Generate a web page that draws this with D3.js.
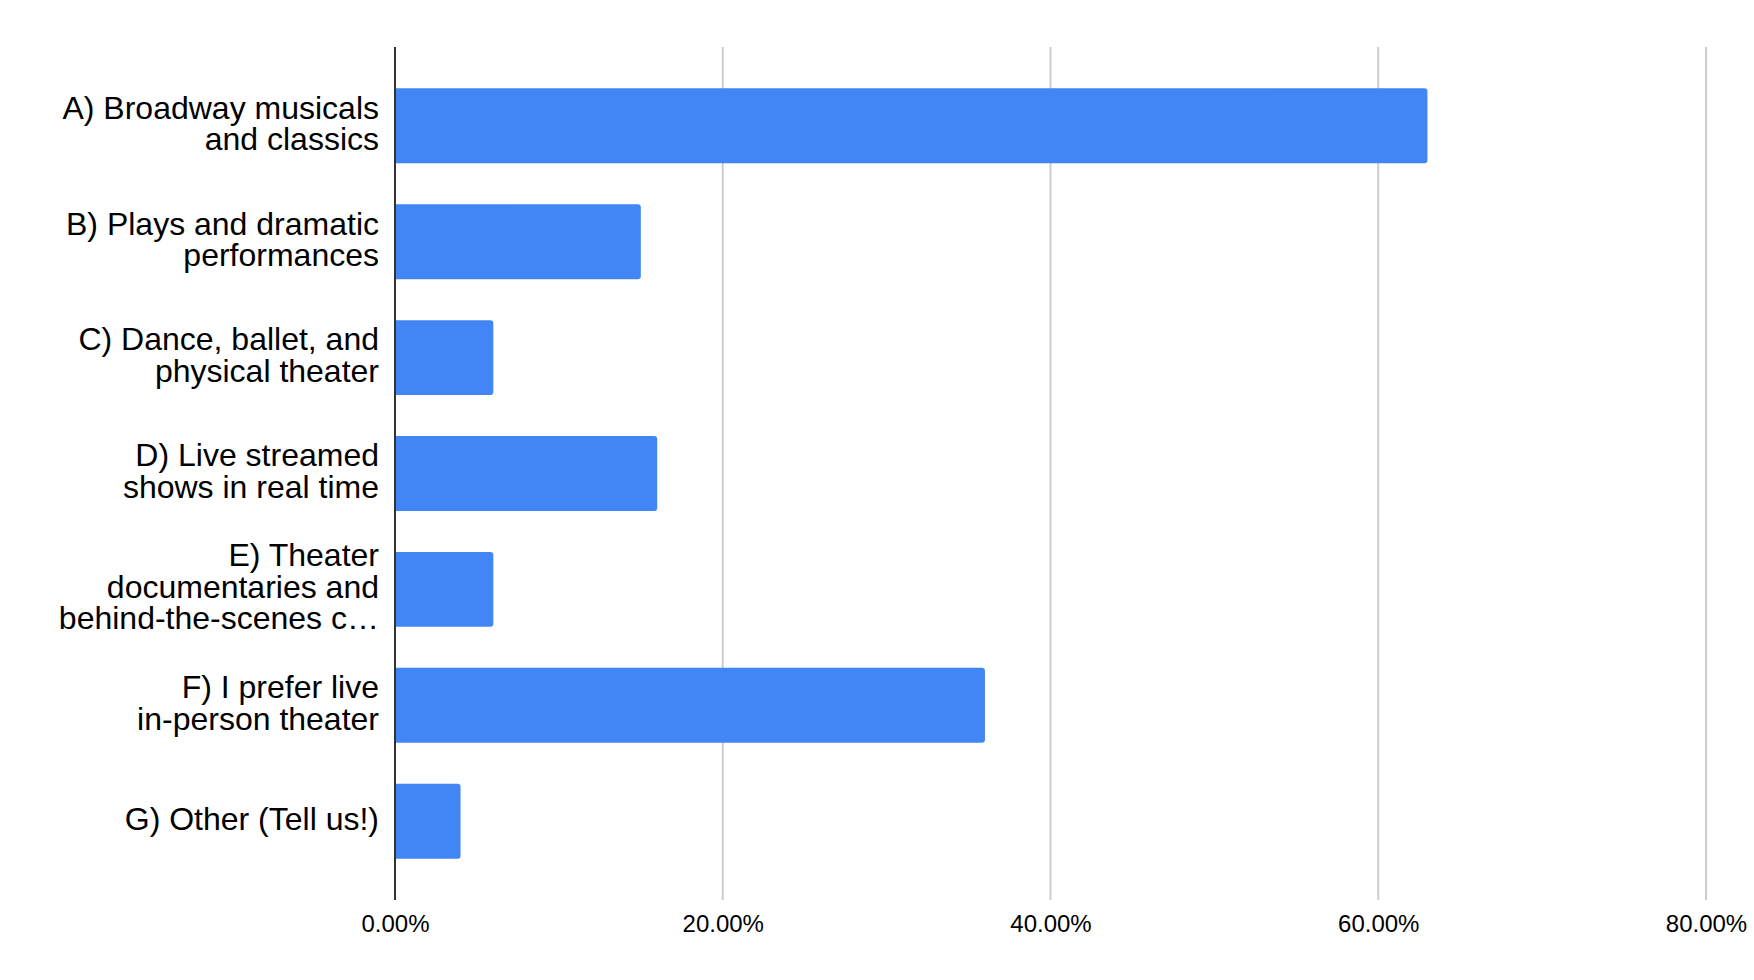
<!DOCTYPE html>
<html>
<head>
<meta charset="utf-8">
<script src="https://cdn.jsdelivr.net/npm/d3@7"></script>
<style>
  body { margin: 0; background: #fff; }
  svg { display: block; font-family: "Liberation Sans", Arial, sans-serif; }
  .grid line { stroke: #ccc; stroke-width: 2; }
  .axis-x .domain { display: none; }
  .axis-x line { display: none; }
  .axis-x text { font-size: 24px; fill: #000; }
  .cat text { font-size: 32px; fill: #000; }
  .bar { fill: #4285f4; }
</style>
</head>
<body>
<div id="chart"></div>
<script>
// labels as they appear in the chart (line breaks and truncation included)
var categories = [
  "A) Broadway musicals\nand classics",
  "B) Plays and dramatic\nperformances",
  "C) Dance, ballet, and\nphysical theater",
  "D) Live streamed\nshows in real time",
  "E) Theater\ndocumentaries and\nbehind-the-scenes c\u2026",
  "F) I prefer live\nin-person theater",
  "G) Other (Tell us!)"
];
var shares = [0.63, 0.15, 0.06, 0.16, 0.06, 0.36, 0.04];
var tickValues = [0, 0.2, 0.4, 0.6, 0.8];

var data = categories.map(function(c, i) { return {cat: c, value: shares[i]}; });

var W = 1754, H = 980;
var margin = {top: 47, right: 48, bottom: 80, left: 395},
    width = W - margin.left - margin.right,
    height = H - margin.top - margin.bottom;

var svg = d3.select("#chart").append("svg")
    .attr("width", W)
    .attr("height", H)
  .append("g")
    .attr("transform", "translate(" + margin.left + "," + margin.top + ")");

var x = d3.scaleLinear().domain([0, 0.8]).range([0, 1311]);
var y = d3.scaleBand()
    .domain(categories)
    .range([0, height])
    .paddingInner(0.353)
    .paddingOuter(0.357);

// gridlines
svg.append("g").attr("class", "grid")
  .selectAll("line")
  .data(tickValues.slice(1))
  .enter().append("line")
    .attr("x1", function(d) { return x(d); })
    .attr("x2", function(d) { return x(d); })
    .attr("y1", 0)
    .attr("y2", height);

// bars, rounded on the right end only
var r = 3;
svg.selectAll(".bar")
    .data(data)
  .enter().append("path")
    .attr("class", "bar")
    .attr("d", function(d) {
      var x0 = x(0), x1 = x(d.value), y0 = y(d.cat), h = y.bandwidth();
      return "M" + x0 + "," + y0 +
        "H" + (x1 - r) +
        "Q" + x1 + "," + y0 + " " + x1 + "," + (y0 + r) +
        "V" + (y0 + h - r) +
        "Q" + x1 + "," + (y0 + h) + " " + (x1 - r) + "," + (y0 + h) +
        "H" + x0 + "Z";
    });

// y axis line
svg.append("line")
    .attr("x1", 0).attr("x2", 0)
    .attr("y1", 0).attr("y2", height)
    .attr("stroke", "#333")
    .attr("stroke-width", 2);

// x axis labels
svg.append("g")
    .attr("class", "axis-x")
    .attr("transform", "translate(0," + height + ")")
    .call(d3.axisBottom(x).tickValues(tickValues).tickFormat(d3.format(".2%")).tickSize(0).tickPadding(15));

// category labels
var lh = 31.5;
var cat = svg.append("g").attr("class", "cat");
data.forEach(function(d) {
  var lines = d.cat.split("\n");
  var cy = y(d.cat) + y.bandwidth() / 2;
  var t = cat.append("text")
      .attr("text-anchor", "end")
      .attr("x", -16)
      .attr("y", cy - (lines.length - 1) * lh / 2 - 2);
  lines.forEach(function(l, i) {
    t.append("tspan")
      .attr("x", -16)
      .attr("dy", i === 0 ? "0.33em" : lh)
      .text(l);
  });
});
</script>
</body>
</html>
